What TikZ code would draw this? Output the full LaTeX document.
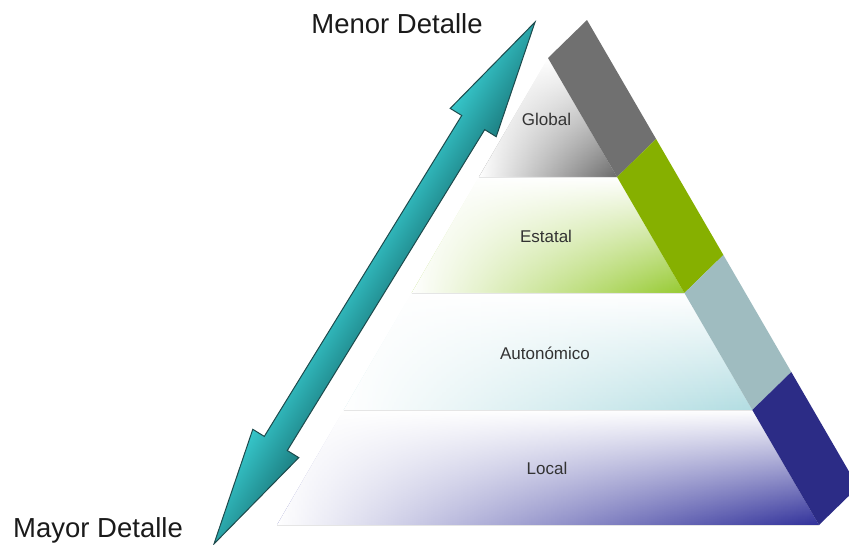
\documentclass[tikz,border=0pt]{standalone}
\usepackage{fontspec}
\setmainfont{Liberation Sans}
\usetikzlibrary{fadings}

\definecolor{stripgray}{HTML}{707070}
\definecolor{stripgreen}{HTML}{86B000}
\definecolor{stripblue}{HTML}{9FBCC0}
\definecolor{stripnavy}{HTML}{2C2C86}
\definecolor{bandgray}{HTML}{6A6A6A}
\definecolor{bandgreen}{HTML}{96CA30}
\definecolor{bandcyan}{HTML}{B2DDE2}
\definecolor{bandnavy}{HTML}{30309A}
\definecolor{arrowlight}{HTML}{36C6CA}
\definecolor{arrowdark}{HTML}{1D8083}
\definecolor{arrowedge}{HTML}{1D4A4C}
\definecolor{labelgray}{HTML}{333333}
\definecolor{titleblack}{HTML}{1A1A1A}

% white veil over each band, opaque on the left and clear on the right
\tikzfading[name=bandfade, left color=transparent!0, middle color=transparent!70, right color=transparent!100]

% one band of the pyramid: white at the top, colour at the bottom, white to the left
\newcommand\pyrband[2]{%
  \shade[top color=white, middle color=#2!40!white, bottom color=#2] #1;
  \fill[white, path fading=bandfade] #1;
}

\tikzset{
  biglabel/.style={inner sep=0pt, text=titleblack, font=\fontsize{27.5}{33}\selectfont},
  bandlabel/.style={inner sep=0pt, text=labelgray, font=\fontsize{17}{20}\selectfont},
  seam/.style={black!10, line width=0.8pt},
}

\begin{document}
\begin{tikzpicture}[x=1pt, y=-1pt]
\useasboundingbox (0,0) rectangle (849,544);
\clip (0,0) rectangle (849,544);

% front face corners (left and right edge at each band boundary)
\coordinate (A)  at (548,58);
\coordinate (L1) at (478.9,177); \coordinate (R1) at (617.1,177);
\coordinate (L2) at (411.6,293); \coordinate (R2) at (684.4,293);
\coordinate (L3) at (343.7,410); \coordinate (R3) at (752.3,410);
\coordinate (L4) at (277.0,525); \coordinate (R4) at (819.0,525);
% back edge of the side strip
\coordinate (B0) at (587,20);
\coordinate (B1) at (656.1,139);
\coordinate (B2) at (723.4,255);
\coordinate (B3) at (791.3,372);
\coordinate (B4) at (858.0,487);

% front bands
\pyrband{(A) -- (R1) -- (L1) -- cycle}{bandgray}
\pyrband{(L1) -- (R1) -- (R2) -- (L2) -- cycle}{bandgreen}
\pyrband{(L2) -- (R2) -- (R3) -- (L3) -- cycle}{bandcyan}
\pyrband{(L3) -- (R3) -- (R4) -- (L4) -- cycle}{bandnavy}

% seams between the bands
\draw[seam] (L1) -- (R1);
\draw[seam] (L2) -- (R2);
\draw[seam] (L3) -- (R3);
\draw[seam] (L4) -- (R4);

% side strip
\fill[stripgray]  (A)  -- (B0) -- (B1) -- (R1) -- cycle;
\fill[stripgreen] (R1) -- (B1) -- (B2) -- (R2) -- cycle;
\fill[stripblue]  (R2) -- (B2) -- (B3) -- (R3) -- cycle;
\fill[stripnavy]  (R3) -- (B3) -- (B4) -- (R4) -- cycle;

% band labels
\node[bandlabel, anchor=base] (global)     at (546.5,125) {Global};
\node[bandlabel, anchor=base] (estatal)    at (546,242)   {Estatal};
\node[bandlabel, anchor=base] (autonomico) at (545,359)   {Autonómico};
\node[bandlabel, anchor=base] (local)      at (547,474)   {Local};

% double-headed arrow along the side of the pyramid
\begin{scope}[transform canvas={shift={(374.5,283)}, rotate=58.4}]
  \shade[top color=arrowlight, bottom color=arrowdark, draw=arrowedge, line width=1pt, line join=miter]
    (306.4,0) -- (188.4,27) -- (188.4,13.5) -- (-188.4,13.5) -- (-188.4,27)
    -- (-306.4,0) -- (-188.4,-27) -- (-188.4,-13.5) -- (188.4,-13.5) -- (188.4,-27) -- cycle;
\end{scope}

% end labels
\node[biglabel, anchor=base]      (menor) at (397,33) {Menor Detalle};
\node[biglabel, anchor=base west] (mayor) at (13,537) {Mayor Detalle};
\end{tikzpicture}
\end{document}
